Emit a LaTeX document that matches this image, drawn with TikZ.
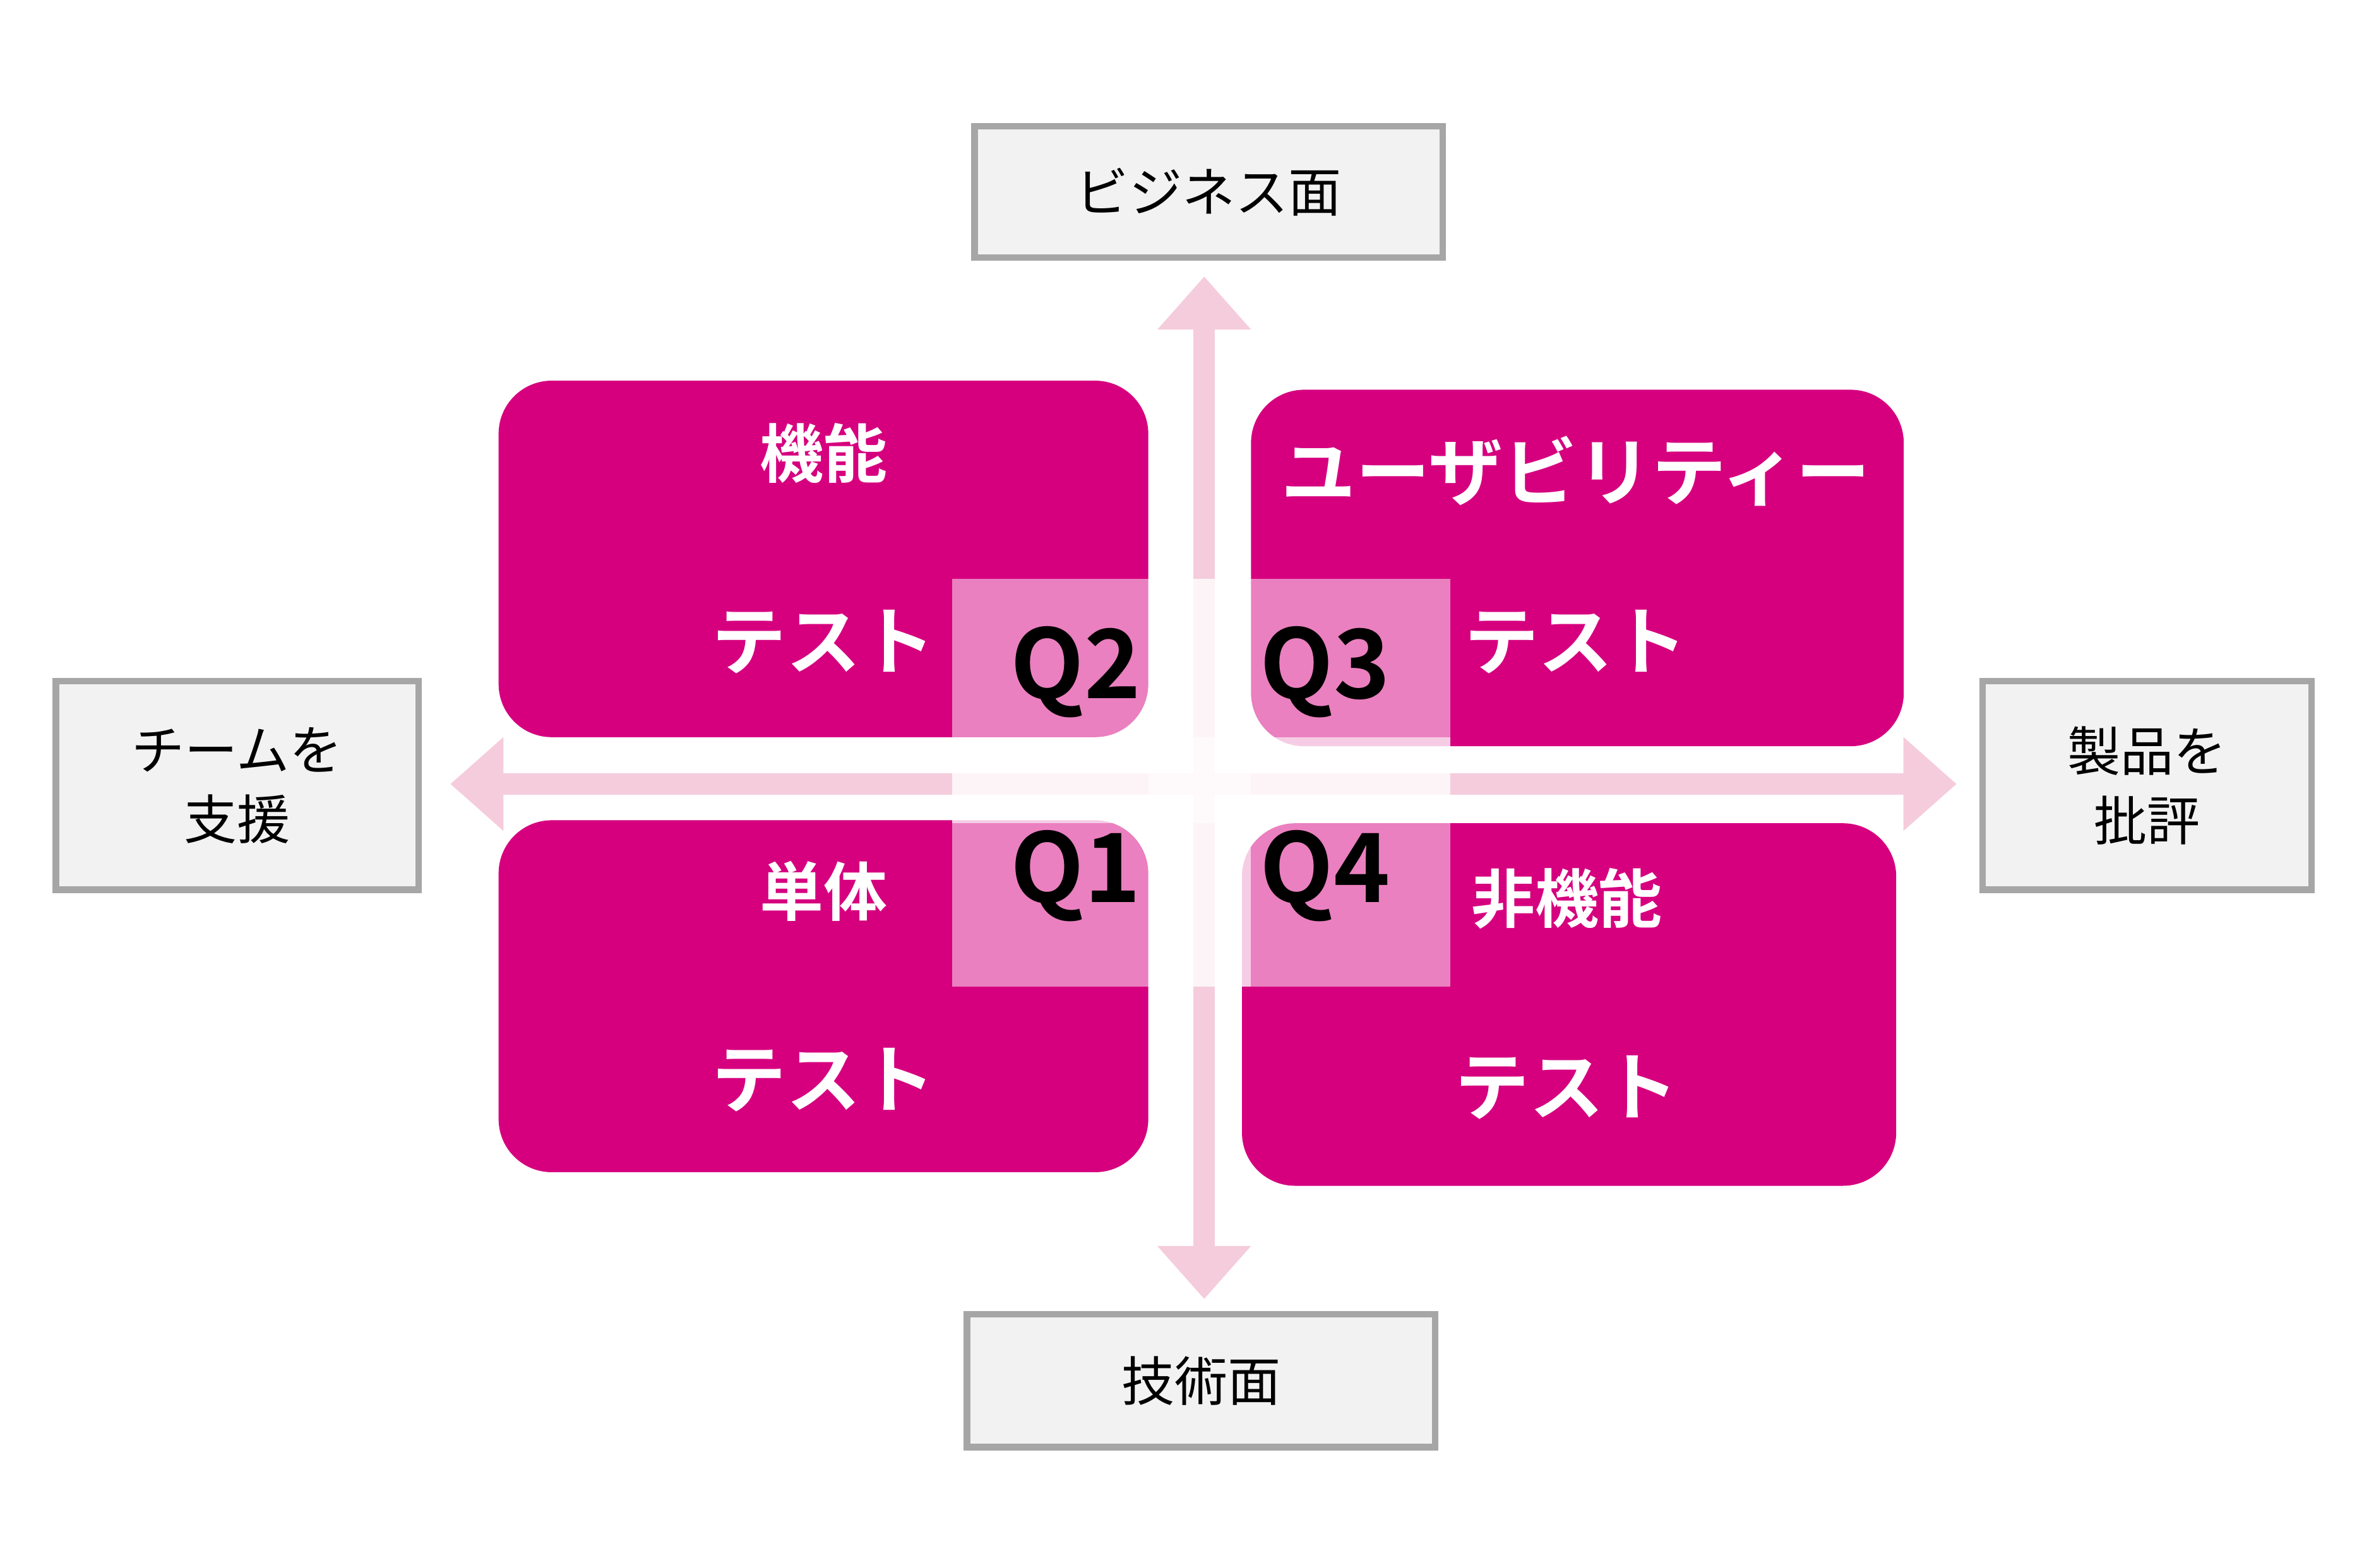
\documentclass[tikz,border=0pt]{standalone}
\usepackage{fontspec}
\setmainfont{Noto Sans CJK JP}
\newfontfamily\jpb{Noto Sans CJK JP Bold}
\usetikzlibrary{arrows.meta}
\definecolor{mag}{HTML}{D6007F}
\definecolor{pal}{HTML}{F5CCDC}
\definecolor{gbox}{HTML}{F2F2F2}
\definecolor{gline}{HTML}{A6A6A6}
\tikzset{
 lab/.style={draw=gline,line width=1.2pt,fill=gbox,font=\fontsize{10}{13}\selectfont,align=center,inner sep=0},
 quad/.style={fill=mag,rounded corners=10pt},
 wt/.style={text=white,font=\jpb\fontsize{14}{16}\selectfont},
 qt/.style={text=black,font=\jpb\fontsize{18}{20}\selectfont},
 ax/.style={pal,line width=4pt,-{Triangle[width=17pt,length=10pt]}}
}
\begin{document}
\begin{tikzpicture}[x=0.01cm,y=-0.01cm]
\useasboundingbox (0,0) rectangle (1560,1038);
\node[lab,minimum width=310*0.01cm,minimum height=87*0.01cm] (top) at (800,127) {ビジネス面};
\node[lab,minimum width=310*0.01cm,minimum height=88*0.01cm] (bot) at (795,914) {技術面};
\node[lab,minimum width=240*0.01cm,minimum height=138*0.01cm] (lft) at (157,520) {チームを\\支援};
\node[lab,minimum width=218*0.01cm,minimum height=138*0.01cm] (rgt) at (1421,520) {製品を\\批評};
\coordinate (c) at (797,519);
\coordinate (vt) at (797,183);
\coordinate (vb) at (797,860);
\coordinate (hl) at (298,519);
\coordinate (hr) at (1295,519);
\draw[ax] (c) -- (vt);
\draw[ax] (c) -- (vb);
\draw[ax] (c) -- (hl);
\draw[ax] (c) -- (hr);
\fill[quad] (330,252) rectangle (760,488);
\fill[quad] (828,258) rectangle (1260,494);
\fill[quad] (330,543) rectangle (760,776);
\fill[quad] (822,545) rectangle (1255,785);
\fill[white,opacity=0.5] (630,383) rectangle (960,653);
\fill[white,opacity=0.6] (760,383) rectangle (828,653);
\fill[white,opacity=0.6] (630,488) rectangle (960,545);
\node[wt,font=\jpb\fontsize{12}{14}\selectfont] (t1) at (545,300) {機能};
\node[wt] (t2) at (545,425) {テスト};
\node[qt] (q2) at (712,445) {Q2};
\node[wt] (t3) at (1043,312) {ユーザビリティー};
\node[wt] (t4) at (1043,425) {テスト};
\node[qt] (q3) at (877,445) {Q3};
\node[wt,font=\jpb\fontsize{12}{14}\selectfont] (t5) at (545,590) {単体};
\node[wt] (t6) at (545,715) {テスト};
\node[qt] (q1) at (712,580) {Q1};
\node[qt] (q4) at (877,580) {Q4};
\node[wt,font=\jpb\fontsize{12}{14}\selectfont] (t7) at (1037,595) {非機能};
\node[wt] (t8) at (1037,720) {テスト};
\end{tikzpicture}
\end{document}
